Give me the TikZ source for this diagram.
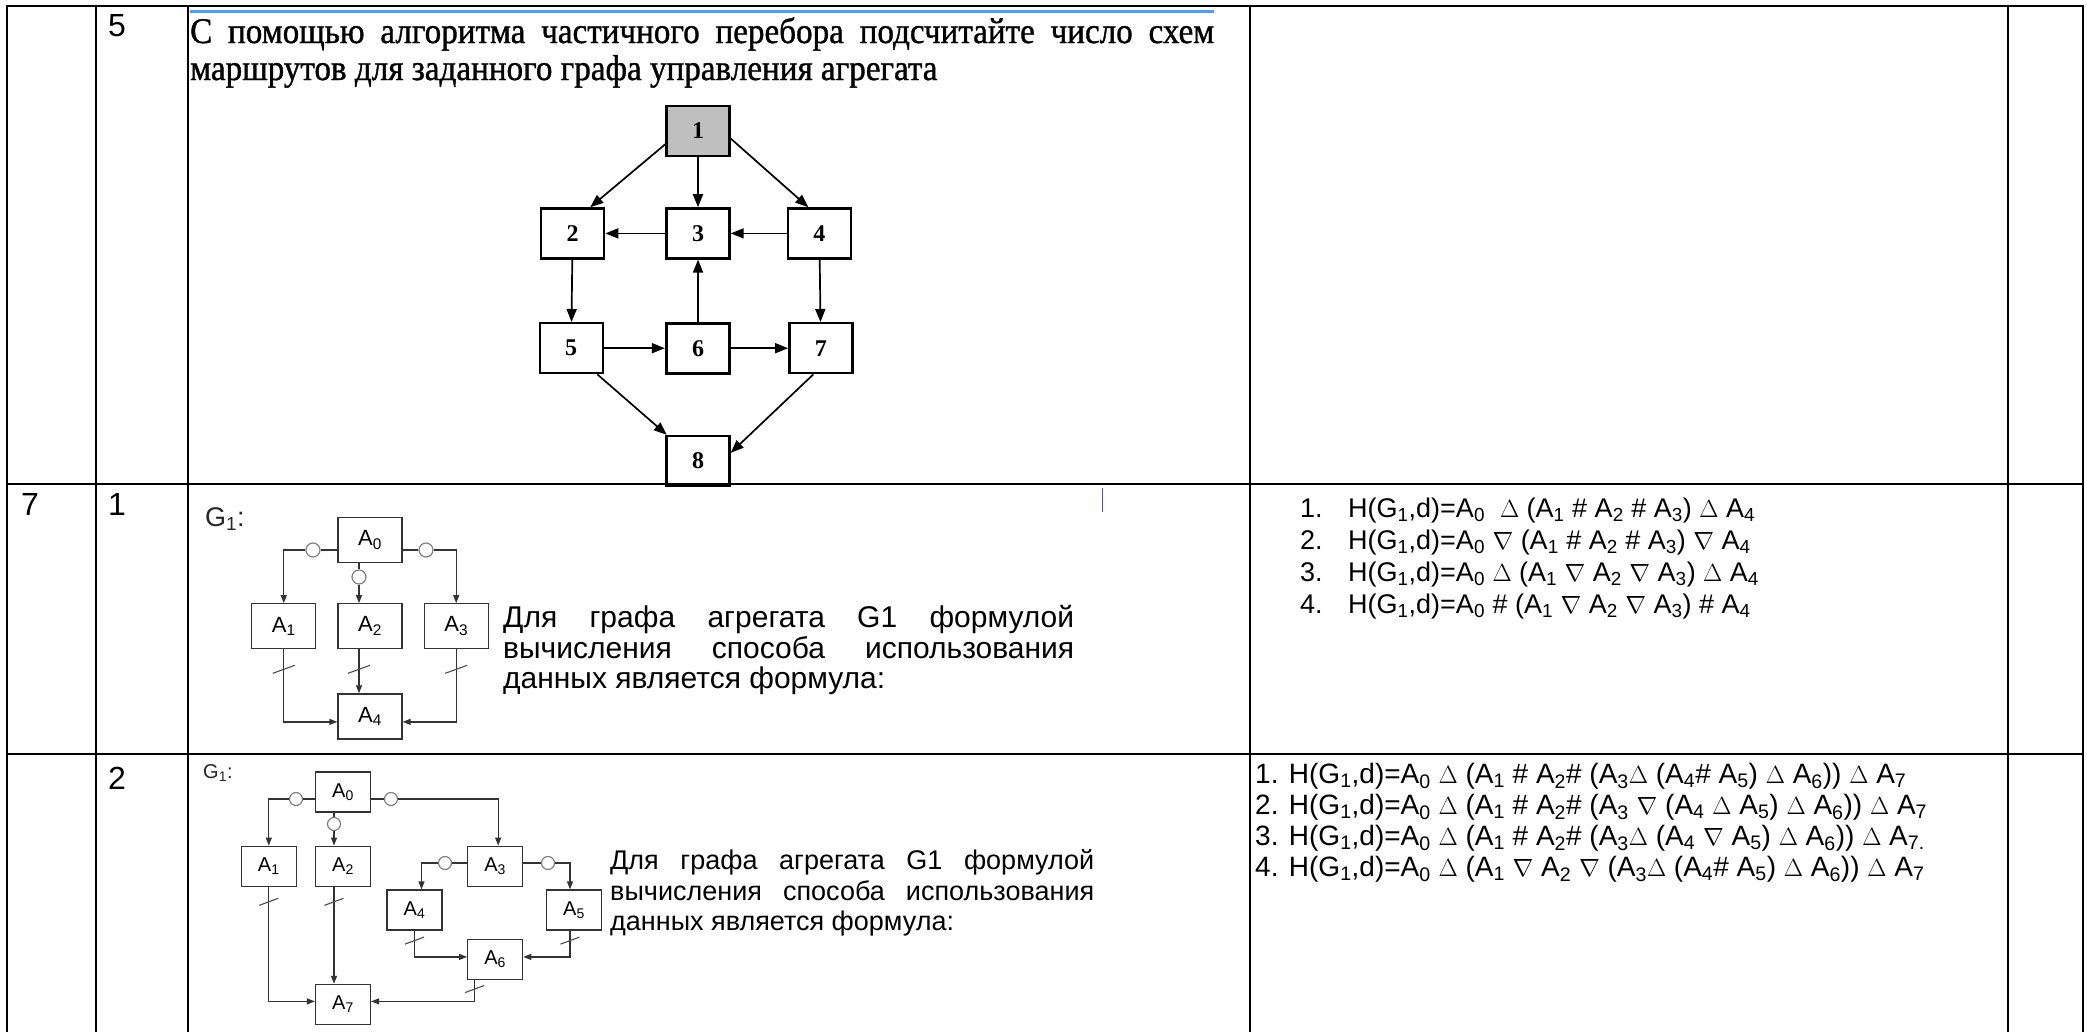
\documentclass[tikz,border=0pt]{standalone}
\usepackage{fontspec}
\setmainfont{Liberation Sans}
\newfontfamily\tmsfont[FakeStretch=0.92, FakeBold=1]{Liberation Serif}
\newfontfamily\numfont{Liberation Serif}
\usetikzlibrary{arrows.meta, positioning, calc}

\newcommand{\Ai}[1]{A\textsubscript{#1}}
\newcommand{\Hg}{H(G\textsubscript{1},d)=}

\tikzset{
  grid/.style = {line width=2.6pt, line cap=rect},
  blk/.style = {draw, line width=2.4pt, minimum width=63pt, minimum height=50pt, inner sep=0pt,
                font=\numfont\bfseries\fontsize{24}{24}\selectfont},
  agr/.style = {draw=black!80, line width=1.2pt, minimum width=64pt, minimum height=45pt, inner sep=0pt,
                font=\fontsize{22}{22}\selectfont},
  agrs/.style = {agr, minimum width=55pt, minimum height=40pt, font=\fontsize{20}{20}\selectfont},
  sw/.style = {circle, draw=black!50, line width=1.2pt, fill=white, minimum size=14pt, inner sep=0pt},
  arr/.style = {-{Triangle[length=13pt, width=10pt]}, line width=1.7pt},
  larr/.style = {-{Triangle[length=8pt, width=6pt]}, line width=1.2pt, draw=black!80},
  lnk/.style = {line width=1.2pt, draw=black!80},
  txt/.style = {anchor=base west, inner sep=0pt},
  cut/.pic = {\draw[line width=1.1pt, black!70] (-11pt,-4pt) -- (11pt,4pt);},
  cuts/.pic = {\draw[line width=1.1pt, black!70] (-9.5pt,-3.5pt) -- (9.5pt,3.5pt);},
}

\begin{document}
\begin{tikzpicture}[x=1pt, y=-1pt]
\useasboundingbox (0,0) rectangle (2087,1031);
\fill[white] (0,0) rectangle (2087,1031);

% table
\draw[line width=3pt, blue!55!cyan!70] (190,11) -- (1214,11);
\draw[grid] (7,6) -- (2083,6) (7,484) -- (2083,484) (7,754) -- (2083,754);
\foreach \x in {7,96,188,1250,2008,2083}
  \draw[grid] (\x,6) -- (\x,1035);
\draw[line width=1pt, blue!70] (1102,488) -- (1102,512);

% row numbers
\node[txt, font=\fontsize{32}{32}\selectfont] (r5) at (108,36) {5};
\node[txt, font=\fontsize{32}{32}\selectfont] (r7) at (21,515) {7};
\node[txt, font=\fontsize{32}{32}\selectfont] (r1) at (108,515) {1};
\node[txt, font=\fontsize{32}{32}\selectfont] (r2) at (108,789) {2};

% task 5
\node[txt, font=\tmsfont\fontsize{36}{36}\selectfont] (q1) at (190,43)
  {\makebox[1024pt][s]{С помощью алгоритма частичного перебора подсчитайте число схем}};
\node[txt, font=\tmsfont\fontsize{36}{36}\selectfont] (q2) at (190,80)
  {маршрутов для заданного графа управления агрегата};

\node (b1) [blk, fill=black!25] at (698,131) {1};
\node (b3) [blk, below=50pt of b1] {3};
\node (b2) [blk, left=60pt of b3] {2};
\node (b4) [blk, right=56pt of b3] {4};
\node (b6) [blk, below=62pt of b3, line width=3.2pt] {6};
\node (b5) [blk, left=61pt of b6] {5};
\node (b7) [blk, right=57pt of b6] {7};
\node (b8) [blk, below=60pt of b6] {8};

\path[arr]
  (b1.202) edge (b2.56)
  (b1) edge (b3)
  (b1.347) edge (b4.113)
  (b3) edge (b2)
  (b4) edge (b3)
  (b2) edge (b5)
  (b4) edge (b7)
  (b6) edge (b3)
  (b5) edge (b6)
  (b6) edge (b7)
  (b5.-45) edge (b8.140)
  (b7.254) edge (b8.14);

% task 7.1
\node[txt, font=\fontsize{27}{27}\selectfont, text=black!85] (g1) at (205,526) {G\textsubscript{1}:};
\node (a0) [agr] at (370,540) {\Ai{0}};
\node (a2) [agr, below=40pt of a0] {\Ai{2}};
\node (a1) [agr, left=21pt of a2] {\Ai{1}};
\node (a3) [agr, right=21pt of a2] {\Ai{3}};
\node (a4) [agr, below=44pt of a2] {\Ai{4}};
\node (s1) [sw] at (313,550) {};
\node (s2) [sw] at (359,577) {};
\node (s3) [sw] at (426,550) {};

\draw[lnk] (a0.west |- s1) -- (s1);
\draw[larr] (s1) -| (a1.north);
\draw[lnk] (a0.south -| s2) -- (s2);
\draw[larr] (s2) -- (a2.north -| s2);
\draw[lnk] (a0.east |- s3) -- (s3);
\draw[larr] (s3) -| (a3.north);
\draw[larr] (a1.south) |- ([yshift=-5.5pt]a4.west);
\draw[larr] (a2.south -| s2) -- (a4.north -| s2);
\draw[larr] (a3.south) |- ([yshift=-5.5pt]a4.east);
\pic at ($(a1.south)+(0,20)$) {cut};
\pic at ($(a2.south -| s2)+(0,20)$) {cut};
\pic at ($(a3.south)+(0,20)$) {cut};

\node[txt, font=\fontsize{30}{30}\selectfont] (p1) at (503,627) {\makebox[571pt][s]{Для графа агрегата G1 формулой}};
\node[txt, font=\fontsize{30}{30}\selectfont] (p2) at (503,658) {\makebox[571pt][s]{вычисления способа использования}};
\node[txt, font=\fontsize{30}{30}\selectfont] (p3) at (503,688) {данных является формула:};

\foreach \n/\f [count=\i] in {
  1./{\Hg\Ai{0}\ \ $\Delta$ (\Ai{1} \# \Ai{2} \# \Ai{3}) $\Delta$ \Ai{4}},
  2./{\Hg\Ai{0} $\nabla$ (\Ai{1} \# \Ai{2} \# \Ai{3}) $\nabla$ \Ai{4}},
  3./{\Hg\Ai{0} $\Delta$ (\Ai{1} $\nabla$ \Ai{2} $\nabla$ \Ai{3}) $\Delta$ \Ai{4}},
  4./{\Hg\Ai{0} \# (\Ai{1} $\nabla$ \Ai{2} $\nabla$ \Ai{3}) \# \Ai{4}}} {
  \node[txt, font=\fontsize{27}{27}\selectfont] (m\i) at (1300,485+32*\i) {\n};
  \node[txt, font=\fontsize{27}{27}\selectfont] (h\i) at (1348,485+32*\i) {\f};
}

% task 7.2
\node[txt, font=\fontsize{20}{20}\selectfont, text=black!85] (g2) at (203,778) {G\textsubscript{1}:};
\node (c0) [agrs] at (343,792) {\Ai{0}};
\node (c2) [agrs, below=33pt of c0] {\Ai{2}};
\node (c1) [agrs, left=18pt of c2] {\Ai{1}};
\node (c3) [agrs, right=96pt of c2] {\Ai{3}};
\node (c4) [agrs] at (414.5,910) {\Ai{4}};
\node (c5) [agrs] at (574,910) {\Ai{5}};
\node (c6) [agrs, below=52pt of c3] {\Ai{6}};
\node (c7) [agrs, below=97pt of c2] {\Ai{7}};
\node (t1) [sw, minimum size=13pt] at (296,799) {};
\node (t2) [sw, minimum size=13pt] at (334,824) {};
\node (t3) [sw, minimum size=13pt] at (391,799) {};
\node (t4) [sw, minimum size=13pt] at (445,863) {};
\node (t5) [sw, minimum size=13pt] at (548,863) {};

\draw[lnk] (c0.west |- t1) -- (t1);
\draw[larr] (t1) -| (c1.north);
\draw[lnk] (c0.south -| t2) -- (t2);
\draw[larr] (t2) -- (c2.north -| t2);
\draw[lnk] (c0.east |- t3) -- (t3);
\draw[larr] (t3) -| ([xshift=3pt]c3.north);
\draw[lnk] (c3.west |- t4) -- (t4);
\draw[larr] (t4) -| ([xshift=7pt]c4.north);
\draw[lnk] (c3.east |- t5) -- (t5);
\draw[larr] (t5) -| ([xshift=-4pt]c5.north);
\draw[larr] (c1.south) |- ([yshift=3pt]c7.west);
\draw[larr] (c2.south -| t2) -- (c7.north -| t2);
\draw[larr] (c4.south) |- ([yshift=2.5pt]c6.west);
\draw[larr] ([xshift=-4pt]c5.south) |- ([yshift=2.5pt]c6.east);
\draw[larr] ([xshift=-20.5pt]c6.south) |- ([yshift=3pt]c7.east);
\pic at ($(c1.south)+(0,15)$) {cuts};
\pic at ($(c2.south -| t2)+(0,15)$) {cuts};
\pic at ($(c4.south)+(0,10)$) {cuts};
\pic at ($([xshift=-4pt]c5.south)+(0,10)$) {cuts};
\pic at ($([xshift=-20.5pt]c6.south)+(0,9)$) {cuts};

\node[txt, font=\fontsize{27}{27}\selectfont] (u1) at (610,869) {\makebox[484pt][s]{Для графа агрегата G1 формулой}};
\node[txt, font=\fontsize{27}{27}\selectfont] (u2) at (610,900) {\makebox[484pt][s]{вычисления способа использования}};
\node[txt, font=\fontsize{27}{27}\selectfont] (u3) at (610,930) {данных является формула:};

\foreach \f [count=\i] in {
  {1. \Hg\Ai{0} $\Delta$ (\Ai{1} \# \Ai{2}\# (\Ai{3}$\Delta$ (\Ai{4}\# \Ai{5}) $\Delta$ \Ai{6})) $\Delta$ \Ai{7}},
  {2. \Hg\Ai{0} $\Delta$ (\Ai{1} \# \Ai{2}\# (\Ai{3} $\nabla$ (\Ai{4} $\Delta$ \Ai{5}) $\Delta$ \Ai{6})) $\Delta$ \Ai{7}},
  {3. \Hg\Ai{0} $\Delta$ (\Ai{1} \# \Ai{2}\# (\Ai{3}$\Delta$ (\Ai{4} $\nabla$ \Ai{5}) $\Delta$ \Ai{6})) $\Delta$ \Ai{7.}},
  {4. \Hg\Ai{0} $\Delta$ (\Ai{1} $\nabla$ \Ai{2} $\nabla$ (\Ai{3}$\Delta$ (\Ai{4}\# \Ai{5}) $\Delta$ \Ai{6})) $\Delta$ \Ai{7}}} {
  \node[txt, font=\fontsize{28}{28}\selectfont] (k\i) at (1255,752+31*\i) {\f};
}
\end{tikzpicture}
\end{document}
